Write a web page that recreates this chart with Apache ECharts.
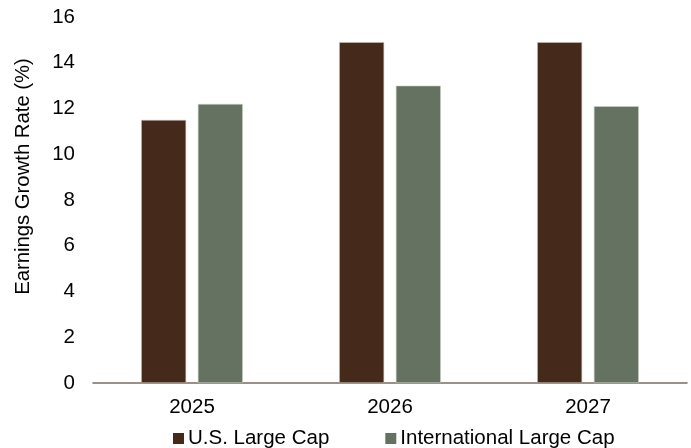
<!DOCTYPE html>
<html>
<head>
<meta charset="utf-8">
<script src="https://cdn.jsdelivr.net/npm/echarts@6/dist/echarts.min.js"></script>
<style>
  html, body { margin: 0; padding: 0; background: #ffffff; }
  #chart { width: 691px; height: 448px; }
</style>
</head>
<body>
<div id="chart"></div>
<script>
// Years on the horizontal axis
const years = ['2025', '2026', '2027'];
// Expected earnings growth, percent
const usLargeCap = [11.5, 14.9, 14.9];
const intlLargeCap = [12.2, 13.0, 12.1];
// Y-axis scale
const yMin = 0;
const yMax = 16;
const yStep = 2;

const FONT = 'Liberation Sans, Arial, sans-serif';

const chart = echarts.init(document.getElementById('chart'), null, { renderer: 'canvas' });
chart.setOption({
  animation: false,
  backgroundColor: '#ffffff',
  textStyle: { fontFamily: FONT },
  grid: { left: 93, right: 4, top: 17, bottom: 65 },
  legend: {
    top: 423,
    left: 168,
    padding: [5, 5, 0, 5],
    itemWidth: 11,
    itemHeight: 11,
    itemGap: 56,
    icon: 'rect',
    itemStyle: { borderWidth: 0 },
    textStyle: { fontFamily: FONT, fontSize: 20.5, color: '#000000', padding: [0, 0, 0, -1] },
    data: ['U.S. Large Cap', 'International Large Cap']
  },
  xAxis: {
    type: 'category',
    data: years,
    axisLine: { lineStyle: { color: '#7d6a60', width: 1.5 } },
    axisTick: { show: false },
    axisLabel: { fontFamily: FONT, fontSize: 20.5, color: '#000000', margin: 14 }
  },
  yAxis: {
    type: 'value',
    min: yMin,
    max: yMax,
    interval: yStep,
    name: 'Earnings Growth Rate (%)',
    nameLocation: 'middle',
    nameGap: 60,
    nameTextStyle: { fontFamily: FONT, fontSize: 20.3, color: '#000000', padding: [0, 0, 0, 47] },
    axisLine: { show: false },
    axisTick: { show: false },
    splitLine: { show: false },
    axisLabel: { fontFamily: FONT, fontSize: 20.5, color: '#000000', margin: 18 }
  },
  series: [
    {
      name: 'U.S. Large Cap',
      type: 'bar',
      data: usLargeCap,
      barWidth: 45,
      barGap: '26%',
      itemStyle: { color: '#45291a', borderColor: '#c9c2bd', borderWidth: 0.6 }
    },
    {
      name: 'International Large Cap',
      type: 'bar',
      data: intlLargeCap,
      barWidth: 45,
      itemStyle: { color: '#667261', borderColor: '#cfd2cc', borderWidth: 0.6 }
    }
  ]
});
</script>
</body>
</html>
